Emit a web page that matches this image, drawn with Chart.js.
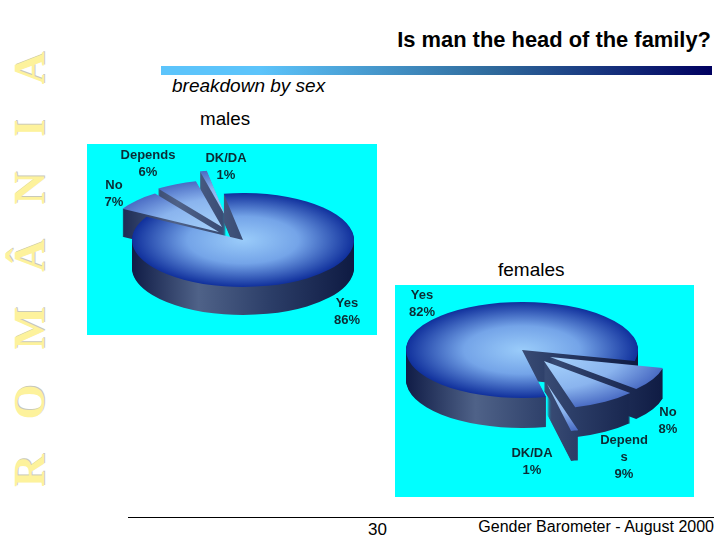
<!doctype html>
<html lang="en">
<head>
<meta charset="utf-8">
<title>Is man the head of the family?</title>
<script src="https://cdn.jsdelivr.net/npm/chart.js@4/dist/chart.umd.min.js"></script>
<style>
  html, body { margin: 0; padding: 0; background: #fff; }
  body { width: 720px; height: 540px; position: relative; overflow: hidden; font-family: "Liberation Sans", Arial, sans-serif; color: #000; }
  .t { position: absolute; white-space: nowrap; line-height: 1; }
  #title { right: 9px; top: 29px; font-size: 21.9px; font-weight: bold; }
  #bar { position: absolute; left: 161px; top: 66px; width: 551px; height: 9px; background: linear-gradient(90deg, #5cc4fb 0%, #5cc4fb 18%, #2f6a9c 60%, #000060 100%); }
  #sub { left: 172px; top: 76px; font-size: 19px; font-style: italic; }
  #males { left: 200px; top: 110px; font-size: 18.8px; }
  #females { left: 498px; top: 260px; font-size: 19px; }
  #rule { position: absolute; left: 128px; top: 517px; width: 586px; height: 1px; background: #000; }
  #page { left: 368px; top: 521px; font-size: 17px; }
  #foot { right: 6px; top: 519px; font-size: 16px; }
  #word { position: absolute; left: 7px; top: 487px; transform-origin: 0 0; transform: rotate(-90deg); font: bold 45px "Liberation Serif", serif; letter-spacing: 35px; color: #fdf29c; text-shadow: 1px 1px 0 #c9c9b8; white-space: nowrap; line-height: 1; }
  canvas { position: absolute; background: #00ffff; }
  #c1 { left: 87px; top: 144px; }
  #c2 { left: 395px; top: 285px; }
</style>
</head>
<body>
<div id="word">ROMÂNIA</div>
<div class="t" id="title">Is man the head of the family?</div>
<div id="bar"></div>
<div class="t" id="sub">breakdown by sex</div>
<div class="t" id="males">males</div>
<div class="t" id="females">females</div>
<canvas id="c1" width="290" height="191"></canvas>
<canvas id="c2" width="299" height="212"></canvas>
<div id="rule"></div>
<div class="t" id="page">30</div>
<div class="t" id="foot">Gender Barometer - August 2000</div>

<script>
const malesLabels = ['Yes', 'No', 'Depends', 'DK/DA'];
const malesValues = [86, 7, 6, 1];
const femalesLabels = ['Yes', 'No', ['Depend', 's'], 'DK/DA'];
const femalesValues = [82, 8, 9, 1];

// fake 3d: the library's arcs get squashed and stacked, one per pixel of depth
function tiltPlugin(cfg) {
  return {
    id: 'tilt',
    beforeDatasetsDraw(chart) {
      const ctx = chart.ctx;
      const arcs = chart.getDatasetMeta(0).data;

      const place = (arc, i, d) => {
        const s = cfg.shifts[i];
        const R = arc.outerRadius;
        ctx.translate(cfg.cx + s[0], cfg.cy + s[1] + d);
        ctx.scale(cfg.rx / R, cfg.ry / R);
        ctx.translate(-arc.x, -arc.y);
      };
      const drawWith = (arc, fill) => {
        const keep = arc.options;
        const o = Object.create(keep);
        o.backgroundColor = fill;
        arc.options = o;
        arc.draw(ctx);
        arc.options = keep;
      };

      cfg.order.forEach(i => {
        const arc = arcs[i];
        const R = arc.outerRadius;

        const wall = ctx.createLinearGradient(arc.x - R, 0, arc.x + R, 0);
        wall.addColorStop(0, '#101c46');
        wall.addColorStop(0.3, '#4f6288');
        wall.addColorStop(0.62, '#2c3e68');
        wall.addColorStop(1, '#0e1a42');
        for (let d = cfg.depth; d >= 1; d--) {
          ctx.save();
          place(arc, i, d);
          drawWith(arc, wall);
          ctx.restore();
        }

        const top = ctx.createRadialGradient(arc.x, arc.y, 0, arc.x, arc.y, R);
        if (i === 0) {
          top.addColorStop(0, '#9accfa');
          top.addColorStop(0.5, '#74a4e8');
          top.addColorStop(1, '#10309c');
        } else {
          top.addColorStop(0, '#a6d2fc');
          top.addColorStop(0.6, '#8ab4ee');
          top.addColorStop(1, '#4a6cc4');
        }
        ctx.save();
        place(arc, i, 0);
        drawWith(arc, top);
        ctx.restore();
      });
      return false;
    },
    afterDraw(chart) {
      const ctx = chart.ctx;
      const values = chart.data.datasets[0].data;
      ctx.save();
      ctx.font = 'bold 13px "Liberation Sans", Arial, sans-serif';
      ctx.fillStyle = '#0c2c34';
      ctx.textAlign = 'center';
      ctx.textBaseline = 'middle';
      chart.data.labels.forEach((label, i) => {
        const lines = [].concat(label, values[i] + '%');
        lines.forEach((line, k) => {
          ctx.fillText(line, cfg.labelPos[i][0], cfg.labelPos[i][1] + k * cfg.lineGap);
        });
      });
      ctx.restore();
    }
  };
}

function pie(id, labels, values, rotation, cfg) {
  return new Chart(document.getElementById(id), {
    type: 'pie',
    data: { labels: labels, datasets: [{ data: values, borderWidth: 0, backgroundColor: '#6a9ae0' }] },
    options: {
      responsive: false,
      animation: false,
      rotation: rotation,
      layout: { padding: 0 },
      plugins: { legend: { display: false }, tooltip: { enabled: false } }
    },
    plugins: [tiltPlugin(cfg)]
  });
}

pie('c1', malesLabels, malesValues, -10, {
  cx: 156, cy: 96, rx: 111, ry: 47, depth: 28,
  shifts: [[0, 0], [-24, -8], [-21, -13], [-17, -23]],
  order: [3, 2, 1, 0],
  lineGap: 17,
  labelPos: [[260, 159], [27, 41], [61, 11], [139, 14]]
});

pie('c2', femalesLabels, femalesValues, 168, {
  cx: 127, cy: 65, rx: 116, ry: 48, depth: 30,
  shifts: [[0, 0], [28, 7], [22, 11], [25, 34]],
  order: [0, 1, 2, 3],
  lineGap: 17,
  labelPos: [[27, 10], [273, 127], [229, 155], [137, 168]]
});
</script>
</body>
</html>
